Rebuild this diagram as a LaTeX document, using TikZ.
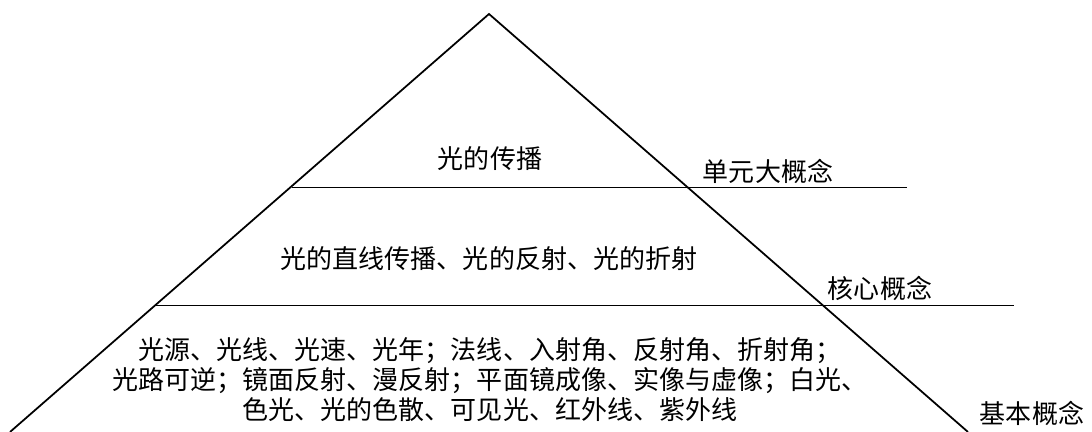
\documentclass[tikz,border=0pt]{standalone}
\usepackage{fontspec}
\newfontfamily\cjk{Noto Sans CJK SC}

\begin{document}
\begin{tikzpicture}[x=1cm, y=1cm,
  every node/.style={font=\cjk\fontsize{14.8pt}{17.07pt}\selectfont, inner sep=0pt},
  edge/.style={line width=1pt},
  tag/.style={anchor=center}]
  \useasboundingbox (0,0) rectangle (21.84,8.64);
  % Pyramid outline
  \coordinate (apex) at (9.78,8.36);
  \coordinate (bl) at (0.2,0);
  \coordinate (br) at (19.36,0);
  \draw[edge] (bl) -- (apex) -- (br);
  % Dividing lines
  \coordinate (l1a) at (5.84,4.89);
  \coordinate (l1b) at (18.14,4.89);
  \coordinate (l2a) at (3.10,2.53);
  \coordinate (l2b) at (20.28,2.53);
  \draw[edge] (l1a) -- (l1b);
  \draw[edge] (l2a) -- (l2b);
  % Top tier
  \node (big) at (9.8,5.46) {光的传播};
  \node[tag] (bigtag) at (15.36,5.22) {单元大概念};
  % Middle tier
  \node (core) at (9.78,3.46) {光的直线传播、光的反射、光的折射};
  \node[tag] (coretag) at (17.6,2.88) {核心概念};
  % Bottom tier
  \node[align=center] (basic) at (9.8,1.04) {光源、光线、光速、光年；法线、入射角、反射角、折射角；\\光路可逆；镜面反射、漫反射；平面镜成像、实像与虚像；白光、\\色光、光的色散、可见光、红外线、紫外线};
  \node[tag] (basictag) at (20.64,0.38) {基本概念};
\end{tikzpicture}
\end{document}
